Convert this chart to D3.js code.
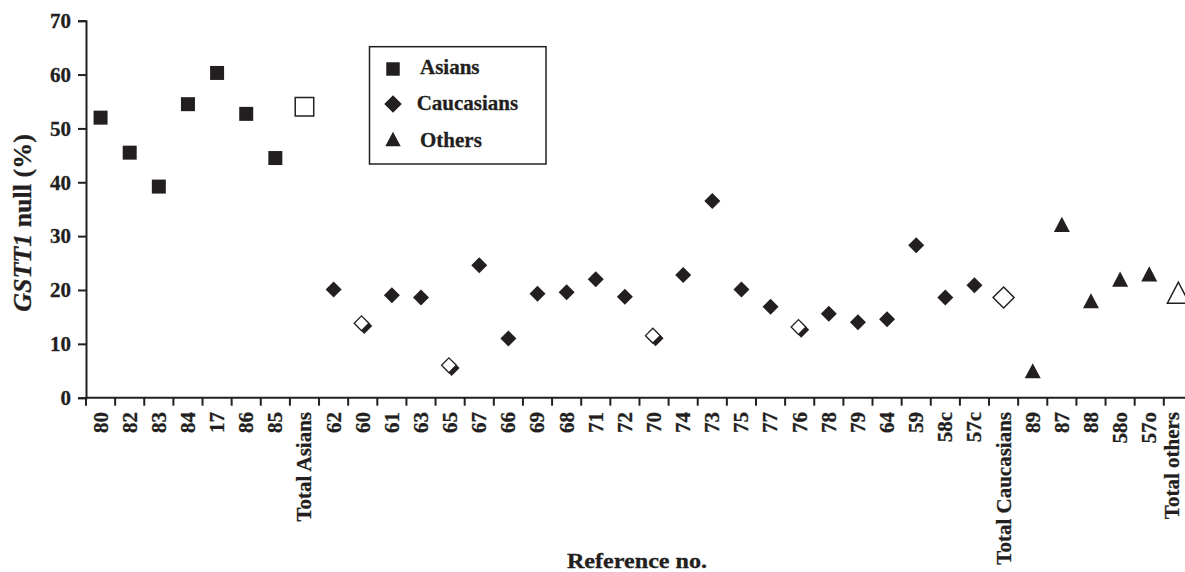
<!DOCTYPE html>
<html>
<head>
<meta charset="utf-8">
<script src="https://cdn.jsdelivr.net/npm/d3@7"></script>
<style>
  html, body { margin: 0; padding: 0; background: #fff; }
  svg { display: block; }
  text { font-family: "Liberation Serif", "Times New Roman", serif; font-weight: bold; fill: #231f20; stroke: #231f20; stroke-width: 0.3px; }
</style>
</head>
<body>
<svg id="chart" width="1185" height="572"></svg>
<script>
// ---- data ----
const asianRefs = ["80","82","83","84","17","86","85","Total Asians"];
const asianValues = [52.0, 45.5, 39.2, 54.5, 60.3, 52.7, 44.5, 54.0];
const caucasianRefs = ["62","60","61","63","65","67","66","69","68","71","72","70","74","73","75","77","76","78","79","64","59","58c","57c","Total Caucasians"];
const caucasianValues = [20.1, 13.6, 19.0, 18.6, 5.8, 24.6, 11.0, 19.3, 19.6, 22.0, 18.75, 11.3, 22.8, 36.5, 20.1, 16.9, 12.9, 15.6, 14.0, 14.55, 28.3, 18.6, 20.9, 18.6];
const otherRefs = ["89","87","88","58o","57o","Total others"];
const otherValues = [5.0, 32.2, 18.0, 22.0, 23.0, 19.5];
const totalRefs = ["Total Asians","Total Caucasians","Total others"];
const halfRefs = ["60","65","70","76"];
const yTickValues = [0,10,20,30,40,50,60,70];
const legendLabels = ["Asians","Caucasians","Others"];

(function () {
const ink = "#231f20";
const categories = asianRefs.concat(caucasianRefs, otherRefs);
const W = 1185;

const svg = d3.select("#chart");
const mLeft = 86, mTop = 20.7, mBottom = 397.7;
const band = 29.13;
const x = d3.scaleBand().domain(categories).range([mLeft, mLeft + band * categories.length]).padding(0);
const y = d3.scaleLinear().domain([0, 70]).range([mBottom, mTop]);

// custom symbol types
const squareType = { draw(ctx, size) { const s = Math.sqrt(size) / 2; ctx.moveTo(-s,-s); ctx.lineTo(s,-s); ctx.lineTo(s,s); ctx.lineTo(-s,s); ctx.closePath(); } };
const diamondType = { draw(ctx, size) { const r = Math.sqrt(size) / 2; ctx.moveTo(0,-r); ctx.lineTo(r,0); ctx.lineTo(0,r); ctx.lineTo(-r,0); ctx.closePath(); } };
const triangleType = { draw(ctx, size) { const w = Math.sqrt(size) / 2, h = w * 0.95; ctx.moveTo(0,-h); ctx.lineTo(w,h); ctx.lineTo(-w,h); ctx.closePath(); } };

// ---- axes ----
const yAxis = d3.axisLeft(y).tickValues(yTickValues).tickSize(8).tickPadding(7);
const gy = svg.append("g").attr("transform", `translate(${mLeft},0)`).call(yAxis);
gy.select(".domain").attr("stroke", ink).attr("stroke-width", 2);
gy.selectAll(".tick line").attr("stroke", ink).attr("stroke-width", 2);
gy.selectAll(".tick text").attr("fill", ink).style("font-size", "21px")
  .style("font-family", '"Liberation Serif", serif').style("font-weight", "bold");

// x axis line
svg.append("line").attr("x1", mLeft).attr("x2", x.range()[1]).attr("y1", mBottom).attr("y2", mBottom)
  .attr("stroke", ink).attr("stroke-width", 2);
// ticks at band boundaries
const boundaries = categories.map(c => x(c)).concat([x.range()[1]]);
svg.append("g").selectAll("line").data(boundaries).join("line")
  .attr("x1", d => d).attr("x2", d => d).attr("y1", mBottom).attr("y2", mBottom + 8)
  .attr("stroke", ink).attr("stroke-width", 2);
// rotated category labels (kept inside the page edge)
svg.append("g").selectAll("text").data(categories).join("text")
  .attr("transform", d => `translate(${Math.min(x(d) + x.bandwidth()/2, W - 13)},412) rotate(-90)`)
  .attr("dy", "0.33em")
  .attr("text-anchor", "end")
  .style("font-size", "21px")
  .text(d => d);

// axis titles
const yt = svg.append("text").attr("transform", "translate(31,223) rotate(-90)")
  .attr("text-anchor", "middle").style("font-size", "26px");
yt.append("tspan").style("font-style", "italic").text("GSTT1");
yt.append("tspan").text(" null (%)");

svg.append("text").attr("transform", "translate(637,568) scale(1.15,1)")
  .attr("text-anchor", "middle").style("font-size", "21px").text("Reference no.");

// ---- marks ----
function drawGroup(refs, values, type, size, totalSize) {
  const data = refs.map((r, i) => ({ r, v: values[i] }));
  const g = svg.append("g");
  data.forEach(d => {
    const cx = x(d.r) + x.bandwidth()/2, cy = y(d.v);
    if (totalRefs.includes(d.r)) {
      g.append("path").attr("d", d3.symbol().type(type).size(totalSize)())
        .attr("transform", `translate(${cx},${cy})`)
        .attr("fill", "#fff").attr("stroke", ink).attr("stroke-width", 1.5);
    } else if (halfRefs.includes(d.r)) {
      g.append("path").attr("d", d3.symbol().type(type).size(size)())
        .attr("transform", `translate(${cx + 1.5},${cy + 1.5})`).attr("fill", ink);
      g.append("path").attr("d", d3.symbol().type(type).size(size * 0.85)())
        .attr("transform", `translate(${cx - 1.2},${cy - 1.2})`)
        .attr("fill", "#fff").attr("stroke", ink).attr("stroke-width", 1.3);
    } else {
      g.append("path").attr("d", d3.symbol().type(type).size(size)())
        .attr("transform", `translate(${cx},${cy})`).attr("fill", ink);
    }
  });
}
drawGroup(asianRefs, asianValues, squareType, 14 * 14, 18.5 * 18.5);
drawGroup(caucasianRefs, caucasianValues, diamondType, 16 * 16, 21 * 21);
drawGroup(otherRefs, otherValues, triangleType, 16 * 16, 22 * 22);

// ---- legend ----
const lg = svg.append("g");
lg.append("rect").attr("x", 369.5).attr("y", 46.7).attr("width", 176.5).attr("height", 117.3)
  .attr("fill", "#fff").attr("stroke", ink).attr("stroke-width", 1.5);
const legendTypes = [squareType, diamondType, triangleType];
const legendSizes = [14 * 13, 17.5 * 17.5, 17 * 14];
const legendY = [69, 104, 139];
const legendTextX = [420, 416.7, 420];
const legendBase = [74.3, 109.5, 146.5];
legendLabels.forEach((lab, i) => {
  lg.append("path").attr("d", d3.symbol().type(legendTypes[i]).size(legendSizes[i])())
    .attr("transform", `translate(393,${legendY[i]})`).attr("fill", ink);
  lg.append("text").attr("x", legendTextX[i]).attr("y", legendBase[i]).style("font-size", "21px").text(lab);
});
})();
</script>
</body>
</html>
